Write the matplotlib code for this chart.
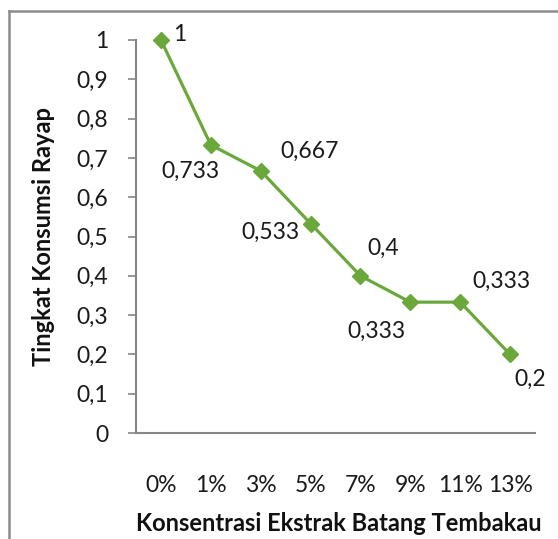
import matplotlib.pyplot as plt
from matplotlib.lines import Line2D

categories = ['0%', '1%', '3%', '5%', '7%', '9%', '11%', '13%']
values = [1, 0.733, 0.667, 0.533, 0.4, 0.333, 0.333, 0.2]
labels = ['1', '0,733', '0,667', '0,533', '0,4', '0,333', '0,333', '0,2']
# label offsets in points (dx, dy) and alignment
offsets = [(9, 4, 'left'), (-15, -19, 'center'), (14, 14, 'left'),
           (-29, -6, 'center'), (5, 20, 'left'), (-45, -21, 'left'),
           (9, 15, 'left'), (3, -18, 'left')]

plt.rcParams['font.family'] = ['Lato', 'DejaVu Sans']
FS = 16.5

fig = plt.figure(figsize=(5.58, 5.39), dpi=100)
ax = fig.add_axes([136 / 558, 1 - 433 / 539, 399 / 558, 393 / 539])

x = list(range(len(categories)))
ax.plot(x, values, color='#6aa83c', lw=2.3, marker='D', ms=8, mec='#6aa83c',
        clip_on=False, zorder=3)

for xi, v, lab, (dx, dy, ha) in zip(x, values, labels, offsets):
    ax.annotate(lab, (xi, v), xytext=(dx, dy), textcoords='offset points',
                ha=ha, va='center', fontsize=FS, color='#1a1a1a')

ax.set_xlim(-0.5, 7.5)
ax.set_ylim(0, 1)
ax.set_xticks(x)
ax.set_xticklabels(categories)
ax.set_yticks([i / 10 for i in range(11)])
ax.set_yticklabels(['0'] + ['0,%d' % i for i in range(1, 10)] + ['1'])
ax.tick_params(axis='x', length=0, pad=30, labelsize=FS, colors='#1a1a1a')
ax.tick_params(axis='y', length=6, width=1.2, color='#868686', pad=14,
               labelsize=FS, labelcolor='#1a1a1a')
for s in ['top', 'right']:
    ax.spines[s].set_visible(False)
for s in ['left', 'bottom']:
    ax.spines[s].set_color('#868686')
    ax.spines[s].set_linewidth(1.5)

ax.set_ylabel('Tingkat Konsumsi Rayap', fontsize=17, fontweight='bold', color='#111111')
ax.set_xlabel('Konsentrasi Ekstrak Batang Tembakau', fontsize=17, fontweight='bold', color='#111111')
ax.yaxis.set_label_coords(-81 / 399, 0.5)
ax.xaxis.set_label_coords((339 - 136) / 399, -(512 - 433) / 393)

# outer frame of the chart area
fig.add_artist(Line2D([9 / 558, 9 / 558], [0, 1 - 11 / 539], transform=fig.transFigure,
                      color='#8c8c8c', lw=1.8))
fig.add_artist(Line2D([9 / 558, 1], [1 - 11 / 539, 1 - 11 / 539], transform=fig.transFigure,
                      color='#8c8c8c', lw=1.8))

fig.savefig('out.png', dpi=100)
